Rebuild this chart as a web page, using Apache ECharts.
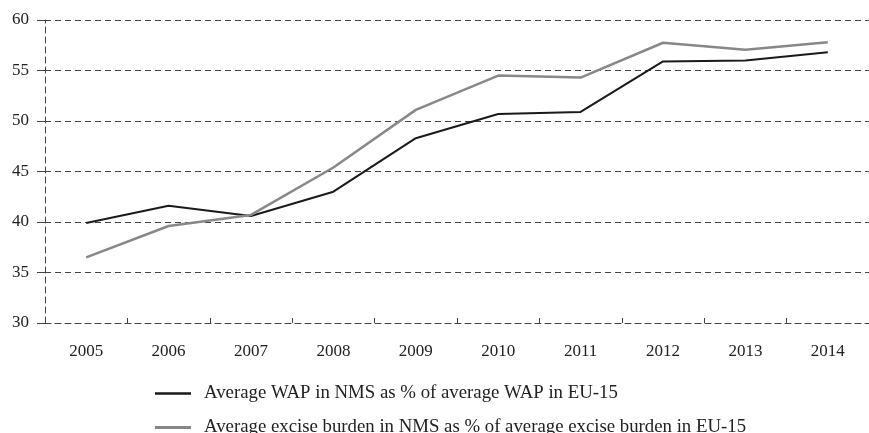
<!DOCTYPE html>
<html><head><meta charset="utf-8">
<script src="https://cdn.jsdelivr.net/npm/echarts@6/dist/echarts.min.js"></script>
<style>html,body{margin:0;padding:0;background:#fff}#c{width:869px;height:433px}</style>
</head><body><div id="c"></div>
<script>
const years = ['2005','2006','2007','2008','2009','2010','2011','2012','2013','2014'];
const wapValues = [39.9, 41.6, 40.6, 43.0, 48.3, 50.7, 50.9, 55.9, 56.0, 56.8];
const exciseValues = [36.5, 39.6, 40.7, 45.4, 51.1, 54.5, 54.3, 57.75, 57.05, 57.8];
const seriesNames = ['Average WAP in NMS as % of average WAP in EU-15',
                     'Average excise burden in NMS as % of average excise burden in EU-15'];
const font = 'Liberation Serif';
const dash = {color:'#444', type:[6,4], width:1};
const legendText = {fontFamily:font, fontSize:18.8, color:'#222', padding:[0,0,0,8]};
const chart = echarts.init(document.getElementById('c'), null, {renderer:'canvas'});
chart.setOption({
  animation:false,
  backgroundColor:'#fff',
  grid:{left:45, top:20, width:830, height:303, containLabel:false},
  xAxis:{type:'category', data:years, boundaryGap:true,
    axisLine:{show:true, lineStyle:dash},
    axisTick:{show:true, inside:true, length:5, alignWithLabel:false, lineStyle:{color:'#444'}},
    axisLabel:{fontFamily:font, fontSize:17, color:'#222', margin:20},
    splitLine:{show:false}},
  yAxis:{type:'value', min:30, max:60, interval:5,
    axisLine:{show:true, lineStyle:dash},
    axisTick:{show:true, length:8, lineStyle:{color:'#444'}},
    axisLabel:{fontFamily:font, fontSize:17, color:'#222', margin:16},
    splitLine:{show:true, lineStyle:dash}},
  legend:[
    {left:150, top:379, itemWidth:36, itemHeight:2.5, icon:'rect', textStyle:legendText, data:[seriesNames[0]]},
    {left:150, top:413, itemWidth:36, itemHeight:3, icon:'rect', textStyle:legendText, data:[seriesNames[1]]}
  ],
  series:[
    {name:seriesNames[0], type:'line', data:wapValues, showSymbol:false, symbol:'none',
     lineStyle:{color:'#1a1a1a', width:2}, itemStyle:{color:'#1a1a1a'}},
    {name:seriesNames[1], type:'line', data:exciseValues, showSymbol:false, symbol:'none',
     lineStyle:{color:'#888', width:2.5}, itemStyle:{color:'#888'}}
  ]
});
</script></body></html>
